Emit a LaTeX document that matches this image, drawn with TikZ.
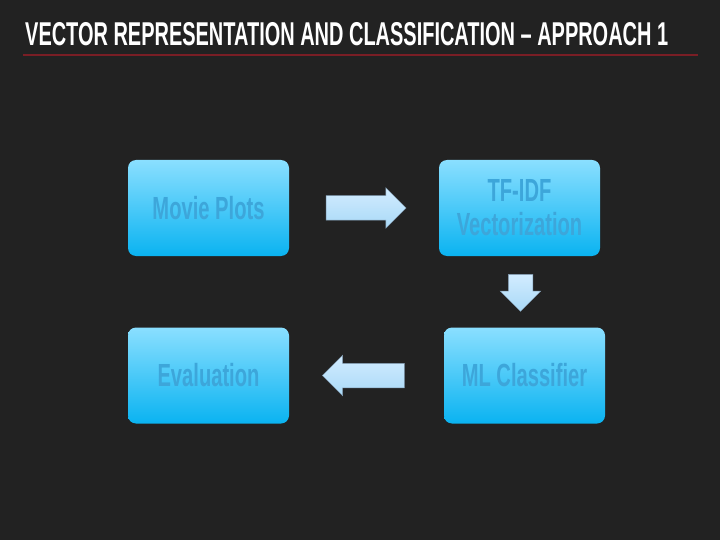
\documentclass[tikz,border=0pt]{standalone}
\usepackage{fontspec}
\usepackage{tikz}
\usetikzlibrary{shapes, arrows, positioning, calc}
\newfontfamily\slidefont{Liberation Sans}[FakeStretch=0.63,Ligatures=TeX]
\newfontfamily\titlefont{Liberation Sans}[FakeStretch=0.605,Ligatures=TeX]
\definecolor{slidebg}{HTML}{222222}
\definecolor{boxtop}{HTML}{8ADFFF}
\definecolor{boxbot}{HTML}{0AB3F1}
\definecolor{boxtext}{HTML}{3DA6DA}
\definecolor{arrowtop}{HTML}{D2ECFF}
\definecolor{arrowbot}{HTML}{A9D9F7}
\definecolor{arrowline}{HTML}{7E98AE}
\definecolor{rulered}{HTML}{7A1E25}
\tikzstyle{stage}=[rounded corners=8pt,minimum width=161pt,minimum height=96pt,inner sep=0pt,top color=boxtop,bottom color=boxbot,text=boxtext,align=center,font=\slidefont\bfseries\fontsize{32}{34}\selectfont]
\tikzstyle{blockarrow}=[single arrow,draw=arrowline,line width=0.5pt,top color=arrowtop,bottom color=arrowbot,inner sep=12pt,single arrow head extend=8pt,single arrow tip angle=90]

\begin{document}
\begin{tikzpicture}[x=1pt,y=-1pt]
\fill[slidebg] (0,0) rectangle (720,540);
\useasboundingbox (0,0) rectangle (720,540);

% title
\node[anchor=base west,inner sep=0pt,text=white,font=\titlefont\bfseries\fontsize{33}{36}\selectfont] (title) at (25,46) {VECTOR REPRESENTATION AND CLASSIFICATION -- APPROACH 1};
\coordinate (rule_l) at (23,55);
\coordinate (rule_r) at (698,55);
\draw[rulered,line width=1.2pt] (rule_l) -- (rule_r);

% 1st row
\node[stage] (plots) at (208.5,208) {Movie Plots};
\node[stage] (tfidf) at (519.5,208) {TF-IDF\\Vectorization};

% 2nd row
\node[stage] (clf)   at (524.5,375.5) {ML Classifier};
\node[stage] (evalu) at (208.5,375.5) {Evaluation};

% arrows
\node[blockarrow,minimum height=80pt,xshift=-4pt] (a_plots) at ($(plots.east)!0.5!(tfidf.west)$) {};
\node[blockarrow,minimum height=37pt,shape border rotate=270,xshift=-1.5pt,yshift=5pt] (a_tfidf) at ($(tfidf.south)!0.5!(clf.north)$) {};
\node[blockarrow,minimum height=82pt,shape border rotate=180,xshift=3pt] (a_clf) at ($(clf.west)!0.5!(evalu.east)$) {};

\end{tikzpicture}
\end{document}
